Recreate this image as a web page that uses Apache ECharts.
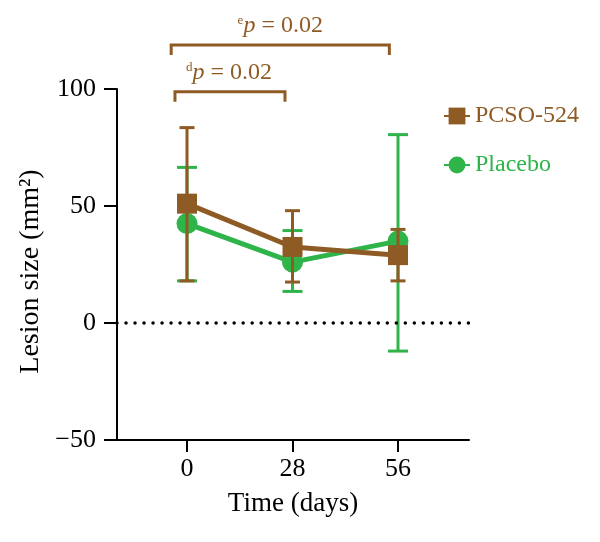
<!DOCTYPE html>
<html><head><meta charset="utf-8">
<script src="https://cdn.jsdelivr.net/npm/echarts@6/dist/echarts.min.js"></script>
<style>html,body{margin:0;padding:0;background:#fff}#c{width:600px;height:542px}</style>
</head><body><div id="c"></div>
<script>
// ---- data ----
const days = [0, 28, 56];
const xTickLabels = ['0', '28', '56'];
const pcsoMean = [51, 32.5, 29];
const pcsoLow = [18, 17.5, 18];
const pcsoHigh = [83.5, 48, 40];
const placeboMean = [42.5, 26, 35];
const placeboLow = [18, 13.5, -12];
const placeboHigh = [66.5, 39.5, 80.5];
const seriesNames = ['PCSO-524', 'Placebo'];
// significance brackets
const bracketX1 = [-4.2, -3.2];
const bracketX2 = [53.7, 26.0];
const bracketY = [118.8, 98.8];
const bracketDrop = [114.5, 94.5];
const bracketSup = ['e', 'd'];
const bracketText = ['= 0.02', '= 0.02'];

const BROWN = '#8f5b25', GREEN = '#2fb44a';
const FONT = '"Liberation Serif","DejaVu Serif",serif';

function errData(low, high) { return days.map((d, i) => [d, low[i], high[i]]); }
function errSeries(name, low, high, color, capW, z) {
  return {
    type: 'custom', name: name + '_err', z: z, silent: true,
    data: errData(low, high),
    encode: { x: 0, y: [1, 2] },
    renderItem: function (params, api) {
      const x = api.coord([api.value(0), 0])[0];
      const lo = api.coord([api.value(0), api.value(1)])[1];
      const hi = api.coord([api.value(0), api.value(2)])[1];
      const st = { stroke: color, lineWidth: 3, fill: null };
      return { type: 'group', children: [
        { type: 'line', shape: { x1: x, y1: lo, x2: x, y2: hi }, style: st },
        { type: 'line', shape: { x1: x - capW / 2, y1: hi, x2: x + capW / 2, y2: hi }, style: st },
        { type: 'line', shape: { x1: x - capW / 2, y1: lo, x2: x + capW / 2, y2: lo }, style: st }
      ]};
    }
  };
}

const chart = echarts.init(document.getElementById('c'));
const option = {
  animation: false,
  textStyle: { fontFamily: FONT },
  grid: { left: 117, top: 89, width: 352, height: 351, containLabel: false },
  legend: {
    left: 438, top: 99, orient: 'vertical', itemGap: 25, itemWidth: 26, itemHeight: 21,
    data: [
      { name: seriesNames[0], textStyle: { color: BROWN } },
      { name: seriesNames[1], textStyle: { color: GREEN } }
    ],
    textStyle: { fontFamily: FONT, fontSize: 24, padding: [0, 0, 0, 0] }
  },
  xAxis: {
    type: 'value', min: -18.58, max: 74.84,
    name: 'Time (days)', nameLocation: 'middle', nameGap: 50,
    nameTextStyle: { fontFamily: FONT, fontSize: 27, color: '#000' },
    axisLine: { onZero: false, lineStyle: { color: '#000', width: 2 } },
    axisTick: { show: true, length: 12, lineStyle: { width: 2, color: '#000' }, customValues: days },
    axisLabel: { fontFamily: FONT, fontSize: 26, color: '#000', margin: 16, customValues: days,
      formatter: function (v) { const i = days.indexOf(v); return i >= 0 ? xTickLabels[i] : ''; } },
    splitLine: { show: false }
  },
  yAxis: {
    type: 'value', min: -50, max: 100, interval: 50,
    name: 'Lesion size (mm\u00B2)', nameLocation: 'middle', nameGap: 68,
    nameTextStyle: { fontFamily: FONT, fontSize: 28, color: '#000', padding: [0, 14, 0, 0] },
    axisLine: { show: true, onZero: false, lineStyle: { color: '#000', width: 2 } },
    axisTick: { show: true, length: 13, lineStyle: { width: 2, color: '#000' } },
    axisLabel: { fontFamily: FONT, fontSize: 26, color: '#000', margin: 21,
      formatter: function (v) { return v < 0 ? '\u2212' + Math.abs(v) : String(v); } },
    splitLine: { show: false }
  },
  series: [
    errSeries(seriesNames[1], placeboLow, placeboHigh, GREEN, 20, 2),
    {
      type: 'line', name: seriesNames[1], z: 3,
      data: days.map((d, i) => [d, placeboMean[i]]),
      symbol: 'circle', symbolSize: 21,
      lineStyle: { color: GREEN, width: 5 }, itemStyle: { color: GREEN },
      markLine: {
        silent: true, symbol: 'none', label: { show: false },
        lineStyle: { color: '#000', type: [0.01, 9], width: 3.5, cap: 'round' },
        data: [{ yAxis: 0 }]
      }
    },
    errSeries(seriesNames[0], pcsoLow, pcsoHigh, BROWN, 15, 4),
    {
      type: 'line', name: seriesNames[0], z: 5,
      data: days.map((d, i) => [d, pcsoMean[i]]),
      symbol: 'rect', symbolSize: 20,
      lineStyle: { color: BROWN, width: 5 }, itemStyle: { color: BROWN }
    }
  ]
};
chart.setOption(option);

const graphics = [];
for (let i = 0; i < bracketX1.length; i++) {
  const a = chart.convertToPixel({ gridIndex: 0 }, [bracketX1[i], bracketY[i]]);
  const b = chart.convertToPixel({ gridIndex: 0 }, [bracketX2[i], bracketDrop[i]]);
  graphics.push({
    type: 'polyline', silent: true,
    shape: { points: [[a[0], b[1]], [a[0], a[1]], [b[0], a[1]], [b[0], b[1]]] },
    style: { stroke: BROWN, lineWidth: 3, fill: null }
  });
  graphics.push({
    type: 'text', silent: true,
    x: (a[0] + b[0]) / 2 + (i === 1 ? -1 : 0), y: a[1] - 7,
    style: {
      text: '{s|' + bracketSup[i] + '}{p|p}{n| ' + bracketText[i] + '}',
      align: 'center', verticalAlign: 'bottom', fill: BROWN,
      rich: {
        s: { fontFamily: FONT, fontSize: 13, fill: BROWN, verticalAlign: 'top', padding: [0, 0, 10, 0] },
        p: { fontFamily: FONT, fontSize: 24, fontStyle: 'italic', fill: BROWN },
        n: { fontFamily: FONT, fontSize: 24, fill: BROWN }
      }
    }
  });
}
chart.setOption({ graphic: graphics });
</script></body></html>
